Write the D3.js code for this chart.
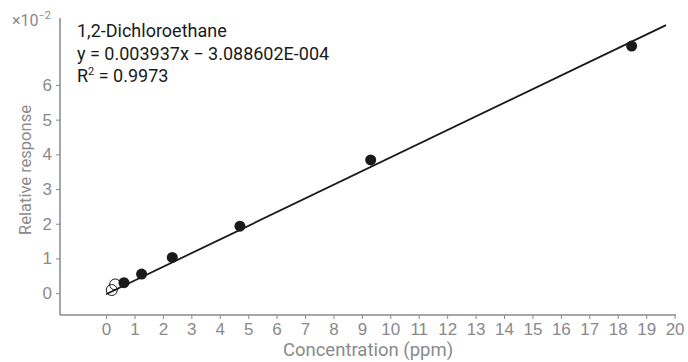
<!DOCTYPE html>
<html>
<head>
<meta charset="utf-8">
<script src="https://cdn.jsdelivr.net/npm/d3@7"></script>
<style>
  body { margin: 0; background: #fff; }
  svg { font-family: Roboto, "Noto Sans", sans-serif; }
</style>
</head>
<body>
<svg width="688" height="362"></svg>
<script>
// calibration points, response in units of 1e-2
const usedX = [0.63, 1.25, 2.33, 4.71, 9.31, 18.49];
const usedY = [0.30, 0.55, 1.03, 1.93, 3.84, 7.12];
const openX = [0.2, 0.32];
const openY = [0.09, 0.25];
const xTicks = d3.range(0, 21);
const yTicks = [0, 1, 2, 3, 4, 5, 6];
const slope = 0.3937, intercept = -0.0309;
const fitRange = [0, 19.7];
const labelLines = ["1,2-Dichloroethane", "y = 0.003937x \u2212 3.088602E-004"];

const axisColor = "#8a8a8a";
const svg = d3.select("svg");

const x = d3.scaleLinear().domain([-1.62, 20.05]).range([60, 676]);
const y = d3.scaleLinear().domain([-0.63, 7.93]).range([315, 18]);

function renderXAxis(g) {
  g.call(d3.axisBottom(x).tickValues(xTicks).tickSize(4).tickPadding(4));
  g.select(".domain").attr("stroke", axisColor).attr("stroke-width", 1.5)
    .attr("d", "M60,0H676");
  g.selectAll(".tick line").attr("stroke", axisColor);
  g.selectAll(".tick text").attr("fill", axisColor).attr("font-size", 17);
}
function renderYAxis(g) {
  g.call(d3.axisLeft(y).tickValues(yTicks).tickSize(4).tickPadding(4));
  g.select(".domain").attr("stroke", axisColor).attr("stroke-width", 1.5)
    .attr("d", "M0,18V315");
  g.selectAll(".tick line").attr("stroke", axisColor);
  g.selectAll(".tick text").attr("fill", axisColor).attr("font-size", 17);
}

svg.append("g").attr("transform", "translate(0,315)").call(renderXAxis);
svg.append("g").attr("transform", "translate(60,0)").call(renderYAxis);

// fit line
svg.append("line")
  .attr("x1", x(fitRange[0])).attr("y1", y(slope * fitRange[0] + intercept))
  .attr("x2", x(fitRange[1])).attr("y2", y(slope * fitRange[1] + intercept))
  .attr("stroke", "#1a1a1a").attr("stroke-width", 1.8);

svg.selectAll(".open").data(openX).enter().append("circle")
  .attr("cx", d => x(d)).attr("cy", (d, i) => y(openY[i])).attr("r", 5.5)
  .attr("fill", "none").attr("stroke", "#1a1a1a").attr("stroke-width", 1);

svg.selectAll(".used").data(usedX).enter().append("circle")
  .attr("cx", d => x(d)).attr("cy", (d, i) => y(usedY[i])).attr("r", 5.5)
  .attr("fill", "#1a1a1a");

// equation text
const txt = svg.append("g").attr("fill", "#1a1a1a").attr("font-size", 18);
labelLines.forEach((s, i) => {
  txt.append("text").attr("x", 77).attr("y", 37 + i * 22.5).text(s);
});
const r2 = txt.append("text").attr("x", 77).attr("y", 82);
r2.append("tspan").text("R");
r2.append("tspan").attr("font-size", 11).attr("dy", -7).text("2");
r2.append("tspan").attr("dy", 7).text(" = 0.9973");

// exponent marker
const ex = svg.append("text").attr("x", 12).attr("y", 26).attr("fill", axisColor).attr("font-size", 16);
ex.append("tspan").text("\u00d710");
ex.append("tspan").attr("font-size", 11).attr("dy", -7).text("\u22122");

// axis titles
svg.append("text").attr("x", 368).attr("y", 356).attr("text-anchor", "middle")
  .attr("fill", axisColor).attr("font-size", 18.5).text("Concentration (ppm)");
svg.append("text").attr("transform", "translate(31,170) rotate(-90)")
  .attr("text-anchor", "middle").attr("fill", axisColor).attr("font-size", 16.5)
  .text("Relative response");
</script>
</body>
</html>
